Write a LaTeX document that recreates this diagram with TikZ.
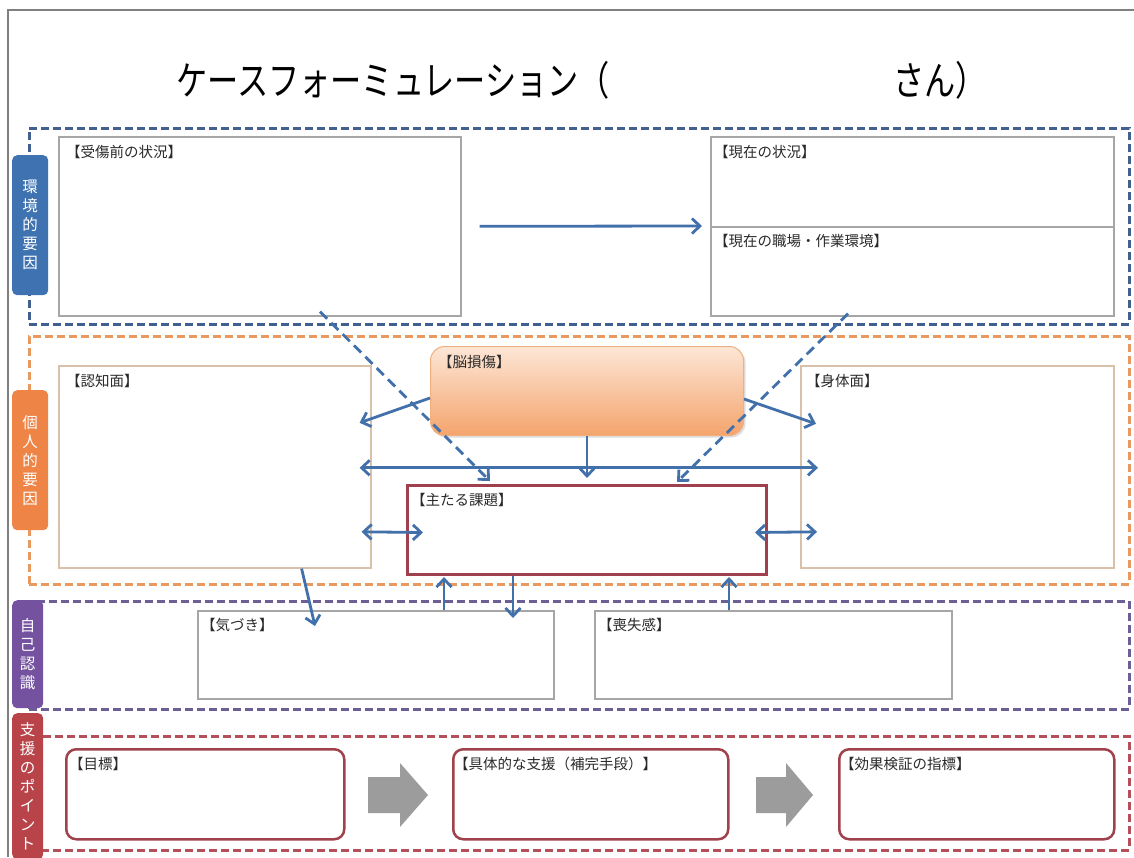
\documentclass[tikz,border=0pt]{standalone}
\usepackage{fontspec}
\usepackage{graphicx}
\setmainfont{Noto Sans CJK JP}
\usetikzlibrary{arrows.meta,shadows}
\definecolor{arrowblue}{HTML}{4170AA}
\definecolor{zblue}{HTML}{41608F}
\definecolor{zorange}{HTML}{E8995F}
\definecolor{zpurple}{HTML}{6C5F96}
\definecolor{zred}{HTML}{B5505B}
\definecolor{tblue}{HTML}{3F72B0}
\definecolor{torange}{HTML}{EE8445}
\definecolor{tpurple}{HTML}{7452A0}
\definecolor{tred}{HTML}{B8444A}
\definecolor{boxgray}{HTML}{A6A6A6}
\definecolor{boxtan}{HTML}{D9C0A8}
\definecolor{mainred}{HTML}{A0404F}
\definecolor{suppred}{HTML}{A0424C}
\definecolor{brainline}{HTML}{F0B080}
\definecolor{braintop}{HTML}{FDE6D6}
\definecolor{brainbot}{HTML}{F4A46C}
\definecolor{blockgray}{HTML}{9C9C9C}
\definecolor{txt}{HTML}{2A2A2A}
\newcommand\mylab{\fontsize{14.5}{16}\selectfont}
\newcommand\mytab{\fontsize{15.5}{19}\selectfont}
\newcommand\mytitle{\fontsize{40}{44}\selectfont}
\begin{document}
\begin{tikzpicture}[x=1pt,y=-1pt,
  zone/.style={draw=#1, line width=2.6pt, dash pattern=on 8pt off 4pt, inner sep=0pt, anchor=north west},
  tab/.style={fill=#1, rounded corners=5pt, inner sep=0pt, anchor=north west, text=white, align=center, font=\mytab},
  wbox/.style={draw=#1, fill=white, line width=1.6pt, inner sep=0pt, anchor=north west},
  rbox/.style={draw=suppred, fill=white, line width=2.5pt, rounded corners=10pt, inner sep=0pt, anchor=north west},
  brainbox/.style={draw=brainline, line width=1pt, top color=braintop, bottom color=brainbot, rounded corners=14pt, inner sep=0pt, anchor=north west, drop shadow={opacity=0.25, shadow xshift=2pt, shadow yshift=-2pt}},
  lab/.style={anchor=north west, inner sep=0pt, font=\mylab, text=txt},
  arr/.style={draw=arrowblue, line width=2.8pt, -{Straight Barb[length=8pt,width=15pt]}},
  darr/.style={draw=arrowblue, line width=2.8pt, {Straight Barb[length=8pt,width=15pt]}-{Straight Barb[length=8pt,width=15pt]}},
  dasharr/.style={arr, dash pattern=on 10pt off 6pt},
]
\useasboundingbox (0,0) rectangle (1134,857);
\fill[white] (0,0) rectangle (1134,857);
\draw[gray, line width=1.5pt] (8,857) -- (8,10) -- (1134,10);

% title
\node[anchor=west, inner sep=0pt] (title1) at (176,80) {\scalebox{0.78}[1]{\mytitle ケースフォーミュレーション（}};
\node[anchor=west, inner sep=0pt] (title2) at (893,80) {\scalebox{0.78}[1]{\mytitle さん）}};

% zones
\node[zone=zblue, minimum width=1100pt, minimum height=196pt] (zenv) at (28,127) {};
\node[zone=zorange, minimum width=1100pt, minimum height=248pt] (zper) at (28,335) {};
\node[zone=zpurple, minimum width=1100pt, minimum height=108pt] (zself) at (28,600) {};
\node[zone=zred, minimum width=1100pt, minimum height=114pt] (zsup) at (28,735) {};

% tabs
\node[tab=tblue, minimum width=36pt, minimum height=140pt] (tenv) at (12,155) {環\\境\\的\\要\\因};
\node[tab=torange, minimum width=36pt, minimum height=140pt] (tper) at (12,390) {個\\人\\的\\要\\因};
\node[tab=tpurple, minimum width=31pt, minimum height=108pt] (tself) at (12,600) {自\\己\\認\\識};
\node[tab=tred, minimum width=31pt, minimum height=146pt] (tsup) at (12,713) {支\\援\\の\\ポ\\イ\\ン\\ト};

% boxes
\node[wbox=boxgray, minimum width=402pt, minimum height=179pt] (pre) at (58,136) {};
\node[lab] (preL) at ([xshift=8pt,yshift=-9pt]pre.north west) {【受傷前の状況】};
\node[wbox=boxgray, minimum width=403pt, minimum height=90pt] (now) at (710,136) {};
\node[lab] (nowL) at ([xshift=4pt,yshift=-9pt]now.north west) {【現在の状況】};
\node[wbox=boxgray, minimum width=403pt, minimum height=89pt] (work) at (710,226) {};
\node[lab] (workL) at ([xshift=4pt,yshift=-8pt]work.north west) {【現在の職場・作業環境】};

\node[wbox=boxtan, minimum width=312pt, minimum height=202pt] (cog) at (58,365) {};
\node[lab] (cogL) at ([xshift=8pt,yshift=-9pt]cog.north west) {【認知面】};
\node[wbox=boxtan, minimum width=313pt, minimum height=202pt] (body) at (800,365) {};
\node[lab] (bodyL) at ([xshift=6pt,yshift=-9pt]body.north west) {【身体面】};
\node[brainbox, minimum width=313pt, minimum height=89pt] (brain) at (430,346) {};
\node[lab] (brainL) at ([xshift=8pt,yshift=-9pt]brain.north west) {【脳損傷】};
\node[wbox=mainred, line width=3pt, minimum width=359pt, minimum height=89pt] (main) at (406,484) {};
\node[lab] (mainL) at ([xshift=5pt,yshift=-9pt]main.north west) {【主たる課題】};

\node[wbox=boxgray, minimum width=356pt, minimum height=88pt] (aware) at (197,610) {};
\node[lab] (awareL) at ([xshift=4pt,yshift=-8pt]aware.north west) {【気づき】};
\node[wbox=boxgray, minimum width=357pt, minimum height=88pt] (loss) at (594,610) {};
\node[lab] (lossL) at ([xshift=4pt,yshift=-8pt]loss.north west) {【喪失感】};

\node[rbox, minimum width=278pt, minimum height=90pt] (goal) at (65,748) {};
\node[lab] (goalL) at ([xshift=4pt,yshift=-9pt]goal.north west) {【目標】};
\node[rbox, minimum width=275pt, minimum height=90pt] (supp) at (452,748) {};
\node[lab] (suppL) at ([xshift=2pt,yshift=-9pt]supp.north west) {【具体的な支援（補完手段）】};
\node[rbox, minimum width=275pt, minimum height=90pt] (eval) at (838,748) {};
\node[lab] (evalL) at ([xshift=2pt,yshift=-9pt]eval.north west) {【効果検証の指標】};

% block arrows
\fill[blockgray] (368,777) -- (400,777) -- (400,763) -- (428,795) -- (400,827) -- (400,813) -- (368,813) -- cycle;
\fill[blockgray] (756,777) -- (786,777) -- (786,763) -- (813,795) -- (786,827) -- (786,813) -- (756,813) -- cycle;

% connectors
\draw[arr] ([xshift=18pt]pre.east) -- ([xshift=-8pt]work.north west);
\draw[dasharr] ([xshift=262pt,yshift=5pt]pre.south west) -- ([xshift=84pt,yshift=3pt]main.north west);
\draw[dasharr] ([xshift=138pt,yshift=3pt]work.south west) -- ([xshift=271pt,yshift=2pt]main.north west);
\draw[arr] ([yshift=-7pt]brain.west) -- ([xshift=-12pt,yshift=44pt]cog.east);
\draw[arr] ([yshift=-8pt]brain.east) -- ([xshift=16pt,yshift=43pt]body.west);
\draw[arr] (brain.south) -- ([yshift=6pt]main.north);
\draw[darr] ([xshift=-12pt,yshift=-1pt]cog.east) -- ([xshift=18pt,yshift=-1pt]body.west);
\draw[darr] ([xshift=-10pt,yshift=-65pt]cog.east) -- ([xshift=17pt,yshift=-2.5pt]main.west);
\draw[darr] ([xshift=-13pt,yshift=-2.5pt]main.east) -- ([xshift=17pt,yshift=-65pt]body.west);
\draw[arr] ([xshift=-70pt]cog.south east) -- ([xshift=118pt,yshift=-16pt]aware.north west);
\draw[arr] ([xshift=247pt]aware.north west) -- ([xshift=38pt,yshift=-1pt]main.south west);
\draw[arr] ([xshift=107pt]main.south west) -- ([xshift=316pt,yshift=-8pt]aware.north west);
\draw[arr] ([xshift=135pt]loss.north west) -- ([xshift=323pt,yshift=-1pt]main.south west);
\end{tikzpicture}
\end{document}
